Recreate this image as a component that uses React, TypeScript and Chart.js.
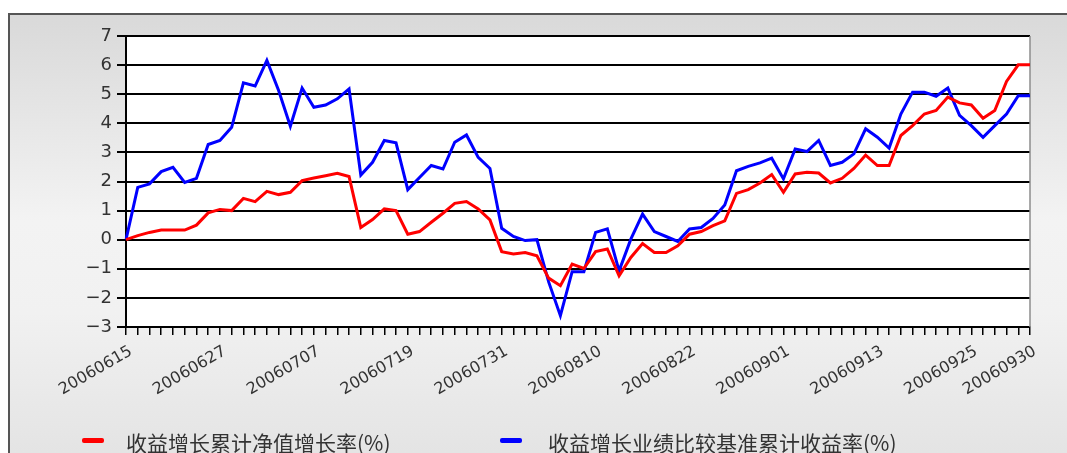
import React, { useEffect, useRef } from 'react';
import { Chart, registerables } from 'chart.js';

Chart.register(...registerables);

const dates: string[] = [
  '20060615', '20060616', '20060619', '20060620', '20060621', '20060622', '20060623', '20060626', '20060627', '20060628', '20060629', '20060630',
  '20060703', '20060704', '20060705', '20060706', '20060707', '20060710', '20060711', '20060712', '20060713', '20060714', '20060717', '20060718',
  '20060719', '20060720', '20060721', '20060724', '20060725', '20060726', '20060727', '20060728', '20060731',
  '20060801', '20060802', '20060803', '20060804', '20060807', '20060808', '20060809', '20060810', '20060811', '20060814', '20060815', '20060816',
  '20060817', '20060818', '20060821', '20060822', '20060823', '20060824', '20060825', '20060828', '20060829', '20060830', '20060831',
  '20060901', '20060904', '20060905', '20060906', '20060907', '20060908', '20060911', '20060912', '20060913', '20060914', '20060915', '20060918',
  '20060919', '20060920', '20060921', '20060922', '20060925', '20060926', '20060927', '20060928', '20060929', '20060930',
];

const tickLabels: string[] = [
  '20060615', '20060627', '20060707', '20060719', '20060731', '20060810',
  '20060822', '20060901', '20060913', '20060925', '20060930',
];

const seriesNames: string[] = ['收益增长累计净值增长率(%)', '收益增长业绩比较基准累计收益率(%)'];

const navGrowth: number[] = [
  0, 0.14, 0.25, 0.33, 0.33, 0.33, 0.5, 0.92, 1.04, 1.0, 1.42, 1.31, 1.66, 1.55, 1.63, 2.03, 2.12,
  2.2, 2.28, 2.17, 0.42, 0.69, 1.06, 1.0, 0.19, 0.28, 0.6, 0.91, 1.25, 1.31, 1.06, 0.68, -0.41, -0.49,
  -0.44, -0.55, -1.32, -1.58, -0.84, -0.99, -0.41, -0.32, -1.24, -0.61, -0.13, -0.44, -0.44, -0.21, 0.19, 0.28,
  0.48, 0.65, 1.59, 1.72, 1.95, 2.24, 1.63, 2.26, 2.32, 2.29, 1.95, 2.11, 2.45, 2.91, 2.55, 2.55,
  3.58, 3.92, 4.32, 4.44, 4.9, 4.7, 4.63, 4.17, 4.44, 5.44, 6.01, 6.01,
];

const benchmarkReturn: number[] = [
  0, 1.8, 1.92, 2.34, 2.49, 1.97, 2.11, 3.27, 3.41, 3.86, 5.39, 5.28, 6.16, 5.13, 3.9, 5.21, 4.55,
  4.63, 4.84, 5.18, 2.22, 2.66, 3.41, 3.33, 1.72, 2.14, 2.55, 2.43, 3.35, 3.6, 2.83, 2.45, 0.39, 0.11,
  -0.03, 0, -1.45, -2.61, -1.1, -1.1, 0.25, 0.37, -1.07, 0.02, 0.88, 0.28, 0.11, -0.06, 0.37, 0.42,
  0.73, 1.19, 2.37, 2.52, 2.64, 2.8, 2.09, 3.12, 3.03, 3.41, 2.55, 2.66, 2.95, 3.81, 3.52, 3.15,
  4.32, 5.07, 5.07, 4.93, 5.21, 4.27, 3.92, 3.52, 3.92, 4.32, 4.95, 4.95,
];

const seriesColors: string[] = ['#ff0000', '#0000ff'];

export default function App() {
  const ref = useRef<HTMLCanvasElement | null>(null);

  useEffect(() => {
    document.body.style.overflow = 'hidden';
    const canvas = ref.current;
    if (!canvas) return;

    const frame = {
      id: 'frame',
      beforeDraw(chart: any) {
        const { ctx, chartArea: a } = chart;
        ctx.save();
        ctx.fillStyle = '#ffffff';
        ctx.fillRect(a.left, a.top, a.right - a.left, a.bottom - a.top);
        ctx.restore();
      },
      beforeDatasetsDraw(chart: any) {
        const { ctx, chartArea: a } = chart;
        ctx.save();
        ctx.strokeStyle = '#8c8c8c';
        ctx.lineWidth = 1.5;
        ctx.beginPath();
        ctx.moveTo(a.right, a.top);
        ctx.lineTo(a.right, a.bottom);
        ctx.stroke();
        ctx.restore();
      },
    };

    const legendPos = [
      { mx: 72, tx: 116 },
      { mx: 490, tx: 538 },
    ];

    const customLegend = {
      id: 'customLegend',
      afterDraw(chart: any) {
        const { ctx } = chart;
        ctx.save();
        chart.data.datasets.forEach((ds: any, i: number) => {
          const p = legendPos[i];
          ctx.fillStyle = ds.borderColor;
          ctx.beginPath();
          ctx.roundRect(p.mx, 423, 22, 5, 2);
          ctx.fill();
          ctx.fillStyle = '#333333';
          ctx.font = '21px "Noto Sans CJK SC"';
          ctx.textBaseline = 'middle';
          ctx.fillText(ds.label, p.tx, 428);
        });
        ctx.restore();
      },
    };

    const chart = new Chart(canvas, {
      type: 'line',
      data: {
        labels: dates,
        datasets: [
          {
            label: seriesNames[0],
            data: navGrowth,
            borderColor: seriesColors[0],
            backgroundColor: seriesColors[0],
            borderWidth: 3,
            pointRadius: 0,
            tension: 0,
            fill: false,
          },
          {
            label: seriesNames[1],
            data: benchmarkReturn,
            borderColor: seriesColors[1],
            backgroundColor: seriesColors[1],
            borderWidth: 3,
            pointRadius: 0,
            tension: 0,
            fill: false,
          },
        ],
      },
      options: {
        responsive: false,
        animation: false,
        layout: { padding: { top: 21, right: 37, left: 0, bottom: 0 } },
        plugins: {
          legend: { display: false },
          tooltip: { enabled: false },
        },
        scales: {
          x: {
            grid: {
              drawOnChartArea: false,
              drawTicks: true,
              tickLength: 8,
              color: '#000000',
              lineWidth: 1.5,
            },
            border: { color: '#000000', width: 2 },
            ticks: {
              autoSkip: false,
              maxRotation: 30,
              minRotation: 30,
              padding: 7,
              labelOffset: 5,
              color: '#333333',
              font: { size: 16, family: '"DejaVu Sans"' },
              callback: (_v: any, i: number) => (tickLabels.includes(dates[i]) ? dates[i] : ''),
            },
            afterFit: (scale: any) => {
              scale.height = 126;
            },
          },
          y: {
            min: -3,
            max: 7,
            grid: { color: '#000000', lineWidth: 2, tickLength: 9 },
            border: { color: '#000000', width: 2 },
            ticks: {
              stepSize: 1,
              padding: 5,
              color: '#333333',
              font: { size: 18, family: '"DejaVu Sans"' },
              callback: (v: any) => (Number(v) < 0 ? '\u2212' + Math.abs(Number(v)) : String(v)),
            },
            afterFit: (scale: any) => {
              scale.width = 116;
            },
          },
        },
      },
      plugins: [frame, customLegend],
    });

    return () => {
      chart.destroy();
    };
  }, []);

  return (
    <div
      style={{
        position: 'fixed',
        left: 8,
        top: 13,
        width: 1080,
        height: 460,
        boxSizing: 'border-box',
        borderLeft: '2px solid #555555',
        borderTop: '2px solid #555555',
        background: 'linear-gradient(to bottom, #d9d9d9 0%, #f3f3f3 45%, #f1f1f1 65%, #e2e2e2 100%)',
        overflow: 'hidden',
      }}
    >
      <canvas
        ref={ref}
        width={1057}
        height={438}
        style={{ position: 'absolute', left: 0, top: 0, width: 1057, height: 438 }}
      />
    </div>
  );
}
